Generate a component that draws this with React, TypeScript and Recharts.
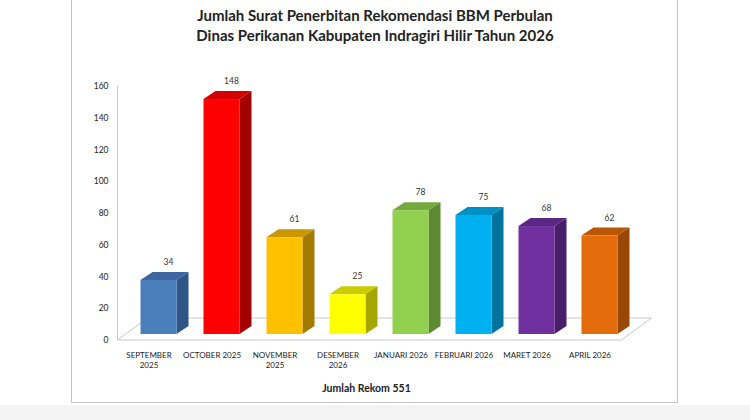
import { Bar, BarChart, CartesianGrid, LabelList, XAxis, YAxis } from 'recharts';

const months = [
  'SEPTEMBER 2025',
  'OCTOBER 2025',
  'NOVEMBER 2025',
  'DESEMBER 2026',
  'JANUARI 2026',
  'FEBRUARI 2026',
  'MARET 2026',
  'APRIL 2026',
];
const counts = [34, 148, 61, 25, 78, 75, 68, 62];
const yTicks = [0, 20, 40, 60, 80, 100, 120, 140, 160];
// two-line labels, as in the original
const wrapped = new Set(['SEPTEMBER 2025', 'NOVEMBER 2025', 'DESEMBER 2026']);

const faces = [
  { front: '#4a7ebb', side: '#2f5587', top: '#3b66a0' },
  { front: '#ff0000', side: '#a30000', top: '#d40000' },
  { front: '#ffc000', side: '#a37a00', top: '#c99700' },
  { front: '#ffff00', side: '#a6a600', top: '#cccc00' },
  { front: '#92d050', side: '#5c8a31', top: '#74a93e' },
  { front: '#00b0f0', side: '#00739e', top: '#0090c6' },
  { front: '#7030a0', side: '#491f69', top: '#5b2784' },
  { front: '#e46c0a', side: '#984705', top: '#b95707' },
];

const rows = months.map((m, i) => ({ month: m, count: counts[i] }));

const FONT = 'Lato, "Open Sans", sans-serif';
const GRID = '#c9c9c9';
const SHIFT_X = 9;
const SHIFT_Y = -6;
const DX = 12;
const DY = 8;

function Bar3D(props: any) {
  const { x, y, width, height, index } = props;
  const c = faces[index];
  const fx = x + SHIFT_X;
  const fy = y + SHIFT_Y;
  const r = fx + width;
  return (
    <g>
      <polygon
        points={`${fx},${fy} ${fx + DX},${fy - DY} ${r + DX},${fy - DY} ${r},${fy}`}
        fill={c.top}
      />
      <polygon
        points={`${r},${fy} ${r + DX},${fy - DY} ${r + DX},${fy + height - DY} ${r},${fy + height}`}
        fill={c.side}
      />
      <rect x={fx} y={fy} width={width} height={height} fill={c.front} />
    </g>
  );
}

// the floor of the 3D plot, drawn from the grid line at value 0
function floor(props: any) {
  const { x1, y1, x2, key } = props;
  const pts = `${x1},${y1} ${x2},${y1} ${x2 + 30},${y1 - 22} ${x1 + 30},${y1 - 22}`;
  return <polygon key={key} points={pts} fill="none" stroke={GRID} strokeWidth={1} />;
}

function MonthTick({ x, y, payload }: any) {
  const label: string = payload.value;
  const lines = wrapped.has(label) ? label.split(' ') : [label];
  return (
    <text x={x} y={y + 9.5} textAnchor="middle" fill="#222" fontSize={8} fontFamily={FONT}>
      {lines.map((l, i) => (
        <tspan key={l} x={x} dy={i === 0 ? 0 : 10.5}>
          {l}
        </tspan>
      ))}
    </text>
  );
}

function ValueLabel({ x, y, width, value }: any) {
  return (
    <text
      x={x + width / 2 + 19}
      y={y - 21}
      textAnchor="middle"
      fill="#333"
      fontSize={8.5}
      fontFamily={FONT}
    >
      {value}
    </text>
  );
}

export default function App() {
  return (
    <div style={{ position: 'relative', width: 750, height: 420, background: '#fff', fontFamily: FONT }}>
      <style>{'body{margin:0}'}</style>
      <div style={{ position: 'absolute', left: 0, top: 405, width: 750, height: 15, background: '#f4f4f4' }} />
      <div
        style={{
          position: 'absolute',
          left: 71,
          top: -2,
          width: 605,
          height: 404,
          border: '1px solid #c4c4c4',
          borderTop: 'none',
        }}
      />
      <div
        style={{
          position: 'absolute',
          left: 0,
          top: 5,
          width: 750,
          textAlign: 'center',
          fontWeight: 700,
          fontSize: 15,
          lineHeight: '20px',
          color: '#222',
        }}
      >
        <div>Jumlah Surat Penerbitan Rekomendasi BBM Perbulan</div>
        <div>Dinas Perikanan Kabupaten Indragiri Hilir Tahun 2026</div>
      </div>
      <div style={{ position: 'absolute', left: 0, top: 0 }}>
        <BarChart
          width={750}
          height={420}
          data={rows}
          margin={{ top: 86, right: 128.5, bottom: 50, left: 0 }}
        >
          <CartesianGrid vertical={false} horizontalValues={[0]} horizontal={floor} />
          <XAxis
            dataKey="month"
            axisLine={false}
            tickLine={false}
            interval={0}
            height={30}
            tick={<MonthTick />}
          />
          <YAxis
            domain={[0, 160]}
            ticks={yTicks}
            width={117.5}
            axisLine={{ stroke: GRID }}
            tickLine={false}
            tickSize={6}
            tickMargin={3}
            tick={{ fill: '#222', fontSize: 8.5, fontFamily: FONT }}
          />
          <Bar dataKey="count" barSize={36} shape={<Bar3D />} isAnimationActive={false}>
            <LabelList dataKey="count" content={<ValueLabel />} />
          </Bar>
        </BarChart>
      </div>
      <div
        style={{
          position: 'absolute',
          left: 0,
          top: 380,
          width: 733,
          textAlign: 'center',
          fontWeight: 700,
          fontSize: 10.5,
          lineHeight: '16px',
          color: '#222',
        }}
      >
        Jumlah Rekom 551
      </div>
    </div>
  );
}
